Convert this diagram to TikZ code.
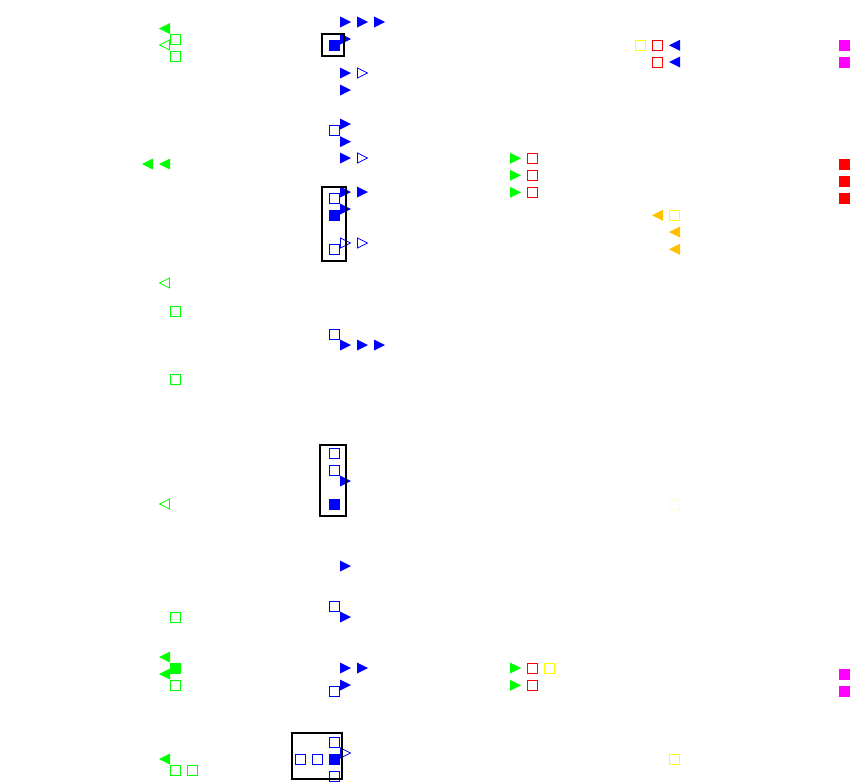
\documentclass[tikz,border=0pt]{standalone}
\definecolor{cB}{RGB}{0,0,255}
\definecolor{cG}{RGB}{0,255,0}
\definecolor{cR}{RGB}{255,0,0}
\definecolor{cY}{RGB}{255,255,0}
\definecolor{cO}{RGB}{255,192,0}
\definecolor{cM}{RGB}{255,0,255}
\tikzset{
  tr/.pic={\fill (-5.5,-5.5) -- (5.5,0) -- (-5.5,5.5) -- cycle;},
  tro/.pic={\draw[line width=0.8pt] (-5,-5) -- (5,0) -- (-5,5) -- cycle;},
  tl/.pic={\fill (5.5,-5.5) -- (-5.5,0) -- (5.5,5.5) -- cycle;},
  tlo/.pic={\draw[line width=0.8pt] (5,-5) -- (-5,0) -- (5,5) -- cycle;},
  sq/.pic={\draw[line width=1pt] (-5,-5) rectangle (5,5);},
  fsq/.pic={\fill (-5.5,-5.5) rectangle (5.5,5.5);},
  frame/.style={draw=black, line width=2pt}
}
\begin{document}
\begin{tikzpicture}[x=1pt,y=-1pt]
\useasboundingbox (0,0) rectangle (850,782);
% ---------- column A (green) ----------
\pic[cG] at (164.5,28.5) {tl};
\pic[cG] at (164.5,45) {tlo};
\pic[cG] at (175.5,39) {sq};
\pic[cG] at (175.5,56.5) {sq};
\pic[cG] at (147.5,164) {tl};
\pic[cG] at (164.5,164) {tl};
\pic[cG] at (164.5,283) {tlo};
\pic[cG] at (175.5,311) {sq};
\pic[cG] at (175.5,379) {sq};
\pic[cG] at (164.5,504) {tlo};
\pic[cG] at (175.5,617) {sq};
\pic[cG] at (164.5,657) {tl};
\pic[cG] at (175.5,668) {fsq};
\pic[cG] at (164.5,674) {tl};
\pic[cG] at (175.5,685) {sq};
\pic[cG] at (164.5,759) {tl};
\pic[cG] at (175.5,770.3) {sq};
\pic[cG] at (192.7,770.3) {sq};
% ---------- column B (blue) ----------
\pic[cB] at (345.5,22) {tr};
\pic[cB] at (362.5,22) {tr};
\pic[cB] at (379.5,22) {tr};
\pic[cB] at (345.5,39) {tr};
\pic[cB] at (334.5,45) {fsq};
\pic[cB] at (345.5,73) {tr};
\pic[cB] at (362.5,73) {tro};
\pic[cB] at (345.5,90) {tr};
\pic[cB] at (345.5,124) {tr};
\pic[cB] at (334.7,130.3) {sq};
\pic[cB] at (345.5,141.7) {tr};
\pic[cB] at (345.5,158) {tr};
\pic[cB] at (362.5,158) {tro};
\pic[cB] at (334.5,198) {sq};
\pic[cB] at (345.5,192) {tr};
\pic[cB] at (362.5,192) {tr};
\pic[cB] at (345.5,209) {tr};
\pic[cB] at (334.5,215) {fsq};
\pic[cB] at (345.5,243) {tro};
\pic[cB] at (362.5,243) {tro};
\pic[cB] at (334.5,249) {sq};
\pic[cB] at (334.5,334) {sq};
\pic[cB] at (345.5,345) {tr};
\pic[cB] at (362.5,345) {tr};
\pic[cB] at (379.5,345) {tr};
\pic[cB] at (334.5,453.3) {sq};
\pic[cB] at (334.5,470.3) {sq};
\pic[cB] at (345.5,481) {tr};
\pic[cB] at (334.5,504.5) {fsq};
\pic[cB] at (345.5,566) {tr};
\pic[cB] at (334.5,606.3) {sq};
\pic[cB] at (345.5,617) {tr};
\pic[cB] at (345.5,668) {tr};
\pic[cB] at (362.5,668) {tr};
\pic[cB] at (345.5,685) {tr};
\pic[cB] at (334.5,691.3) {sq};
\pic[cB] at (334.5,742.7) {sq};
\pic[cB] at (345.5,753) {tro};
\pic[cB] at (300.3,759.3) {sq};
\pic[cB] at (317.3,759.3) {sq};
\pic[cB] at (334.5,759.3) {fsq};
\pic[cB] at (334.5,776) {sq};
% ---------- column C ----------
\pic[cG] at (515.5,158.3) {tr};
\pic[cR] at (532.3,158.3) {sq};
\pic[cG] at (515.5,175.3) {tr};
\pic[cR] at (532.3,175.3) {sq};
\pic[cG] at (515.5,192.3) {tr};
\pic[cR] at (532.3,192.3) {sq};
\pic[cG] at (515.5,668) {tr};
\pic[cR] at (532.3,668) {sq};
\pic[cY] at (549.3,668) {sq};
\pic[cG] at (515.5,685.3) {tr};
\pic[cR] at (532.3,685.3) {sq};
% ---------- column D ----------
\pic[cY] at (640.3,45.3) {sq};
\pic[cR] at (657.3,45.3) {sq};
\pic[cB] at (674.5,45.3) {tl};
\pic[cR] at (657.3,62) {sq};
\pic[cB] at (674.5,62) {tl};
\pic[cO] at (657.5,215.3) {tl};
\pic[cY] at (674.5,215.3) {sq};
\pic[cO] at (674.5,232) {tl};
\pic[cO] at (674.5,249.3) {tl};
\pic[cY!20] at (674.5,504) {sq};
\pic[cY] at (674.5,759) {sq};
% ---------- column E ----------
\pic[cM] at (844.5,45.5) {fsq};
\pic[cM] at (844.5,62) {fsq};
\pic[cR] at (844.5,164) {fsq};
\pic[cR] at (844.5,181) {fsq};
\pic[cR] at (844.5,198) {fsq};
\pic[cM] at (844.5,674) {fsq};
\pic[cM] at (844.5,691) {fsq};
% ---------- frames ----------
\draw[frame] (322.3,34.3) rectangle (344.3,56.3);
\draw[frame] (321.7,187.3) rectangle (346.3,261.3);
\draw[frame] (320.3,445) rectangle (345.7,515.7);
\draw[frame] (291.7,733.3) rectangle (342.3,779.3);
\end{tikzpicture}
\end{document}
